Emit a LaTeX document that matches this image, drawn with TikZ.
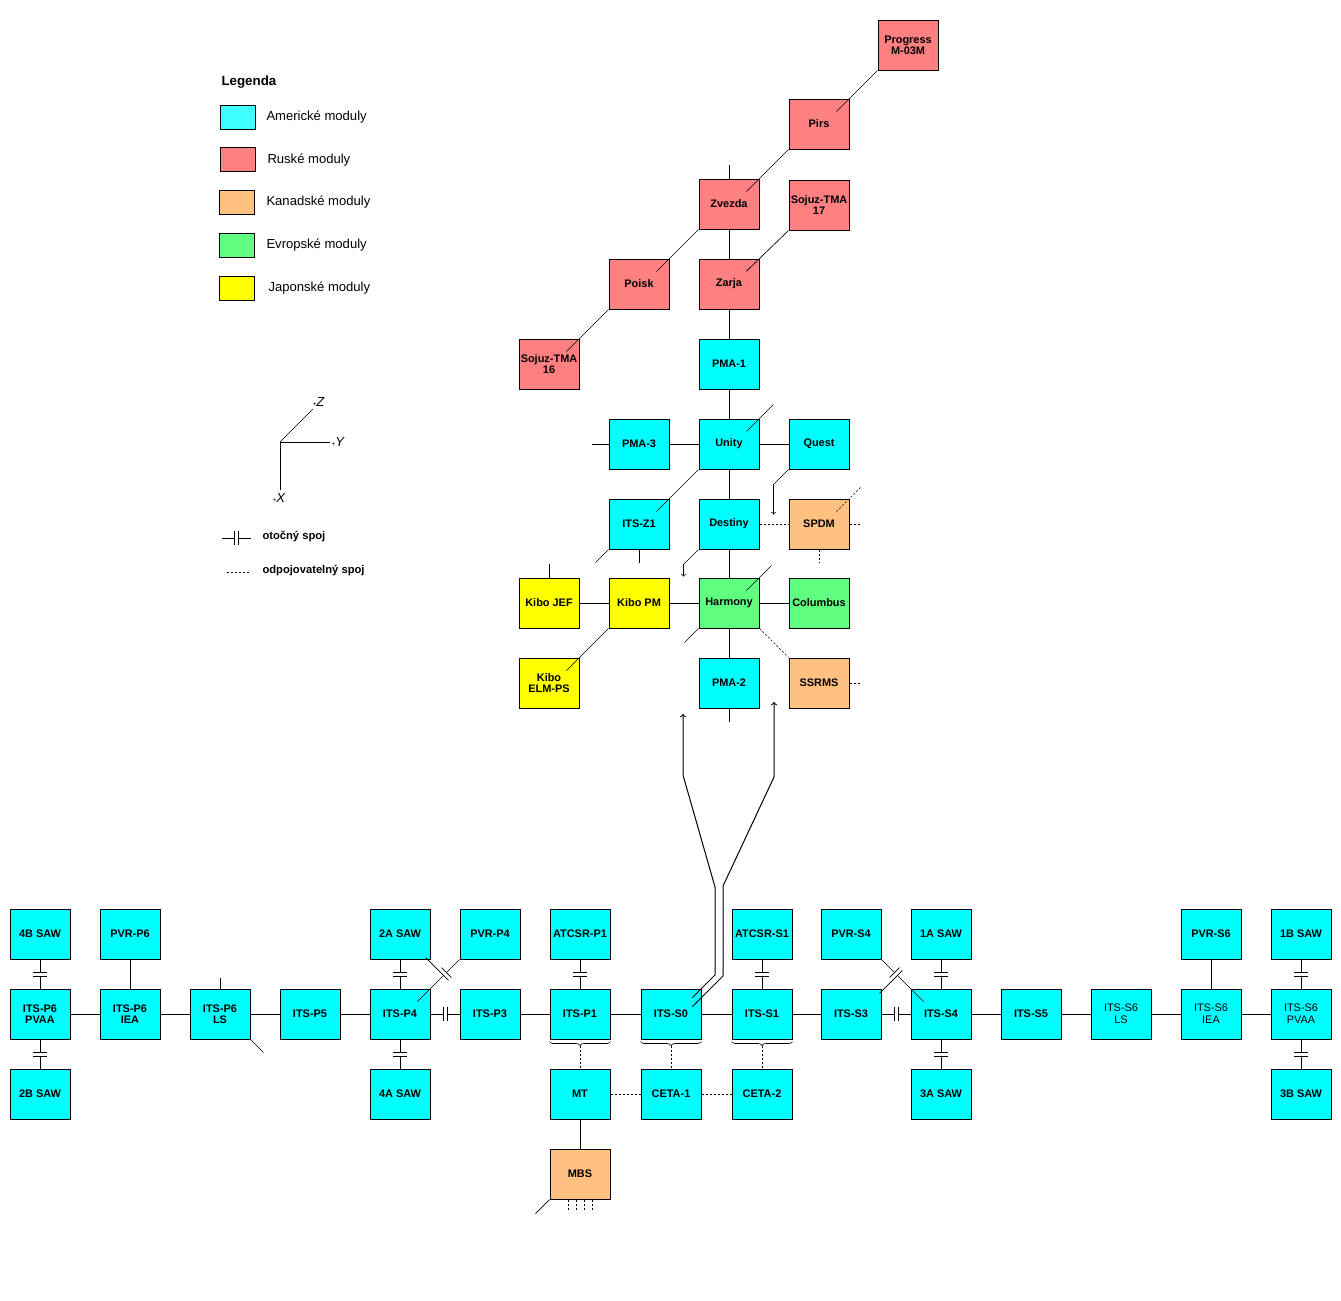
\documentclass[tikz,border=0pt]{standalone}
\usepackage{fontspec}
\setmainfont{Liberation Sans}
\usetikzlibrary{decorations.markings,decorations.pathreplacing}

\definecolor{amer}{RGB}{0,255,255}
\definecolor{amerleg}{RGB}{64,255,255}
\definecolor{rusk}{RGB}{255,128,128}
\definecolor{kanad}{RGB}{255,192,128}
\definecolor{evrop}{RGB}{96,255,128}
\definecolor{japon}{RGB}{255,255,0}

\tikzset{
	modul/.style={draw, minimum width=45pt, minimum height=37.5pt, inner sep=0pt, align=center, font=\fontsize{8.2}{8.5}\selectfont\bfseries},
	am/.style={modul, fill=amer},
	ru/.style={modul, fill=rusk},
	ka/.style={modul, fill=kanad},
	ev/.style={modul, fill=evrop},
	ja/.style={modul, fill=japon},
	tenky/.style={font=\fontsize{8.2}{9}\selectfont},
	vzor/.style={draw, minimum width=26.25pt, minimum height=18pt, inner sep=0pt},
	popis/.style={anchor=west, inner sep=0pt, font=\fontsize{9.8}{10}\selectfont},
	diag/.style={line width=0.5pt, shorten >=-13.8pt},
	odpoj/.style={dash pattern=on 1.5pt off 1.5pt},
	otocny/.style={postaction={decorate}, decoration={markings, mark=at position #1 with {\fill[white] (-2,-7) rectangle (2,7); \draw (-2,-7) -- (-2,7) (2,-7) -- (2,7);}}},
	otocny/.default=0.5
}

\begin{document}
\begin{tikzpicture}[x=0.75pt, y=-0.75pt, line width=0.75pt]
	\useasboundingbox (0,0) rectangle (1341,1300);

	% legenda
	\node[popis, font=\fontsize{10}{10}\selectfont\bfseries] (leg) at (221,82) {Legenda};
	\node[vzor, fill=amerleg] (vA) at (237.5,117) {};
	\node[vzor, fill=rusk] (vR) at (237.5,159) {};
	\node[vzor, fill=kanad] (vK) at (236.5,202) {};
	\node[vzor, fill=evrop] (vE) at (236.5,245) {};
	\node[vzor, fill=japon] (vJ) at (236.5,288) {};
	\node[popis] (tA) at (266,117) {Americké moduly};
	\node[popis] (tR) at (267,160) {Ruské moduly};
	\node[popis] (tK) at (266,202) {Kanadské moduly};
	\node[popis] (tE) at (266,245) {Evropské moduly};
	\node[popis] (tJ) at (268,288) {Japonské moduly};

	% osy
	\coordinate (O) at (280,442);
	\coordinate (kZ) at (313,409);
	\coordinate (kY) at (330,442);
	\coordinate (kX) at (280,490);
	\draw[line width=0.5pt] (O) -- (kZ);
	\draw (O) -- (kY);
	\draw (O) -- (kX);
	\node[popis] (oZ) at (312,402) {{\tiny+}\textit{Z}};
	\node[popis] (oY) at (331,442) {{\tiny+}\textit{Y}};
	\node[popis] (oX) at (272,498) {{\tiny+}\textit{X}};

	\coordinate (r1) at (222,538);
	\coordinate (r2) at (251,538);
	\coordinate (d1) at (227,572);
	\coordinate (d2) at (249,572);
	\draw[otocny] (r1) -- (r2);
	\draw[odpoj, line width=0.5pt] (d1) -- (d2);
	\node[popis, font=\fontsize{8.4}{9}\selectfont\bfseries] (tO) at (262,536) {otočný spoj};
	\node[popis, font=\fontsize{8.4}{9}\selectfont\bfseries] (tD) at (262,571) {odpojovatelný spoj};

	% ruske moduly
	\node[ru] (Progress) at (908,45) {Progress\\M-03M};
	\node[ru] (Pirs) at (819,124) {Pirs};
	\node[ru] (Zvezda) at (729,204) {Zvezda};
	\node[ru] (SojuzB) at (819,205) {Sojuz-TMA\\17};
	\node[ru] (Poisk) at (639,284) {Poisk};
	\node[ru] (Zarja) at (729,284) {Zarja};
	\node[ru] (SojuzA) at (549,364) {Sojuz-TMA\\16};

	% horni cast
	\node[am] (PMA1) at (729,364) {PMA-1};
	\node[am] (PMA3) at (639,444) {PMA-3};
	\node[am] (Unity) at (729,444) {Unity};
	\node[am] (Quest) at (819,444) {Quest};
	\node[am] (ITSZ1) at (639,524) {ITS-Z1};
	\node[am] (Destiny) at (729,524) {Destiny};
	\node[ka] (SPDM) at (819,524) {SPDM};
	\node[ja] (KiboJEF) at (549,603) {Kibo JEF};
	\node[ja] (KiboPM) at (639,603) {Kibo PM};
	\node[ev] (Harmony) at (729,603) {Harmony};
	\node[ev] (Columbus) at (819,603) {Columbus};
	\node[ja] (KiboELM) at (549,683) {Kibo\\ELM-PS};
	\node[am] (PMA2) at (729,683) {PMA-2};
	\node[ka] (SSRMS) at (819,683) {SSRMS};

	% prihradovy nosnik
	\node[am] (SAW4B) at (40,934) {4B SAW};
	\node[am] (PVRP6) at (130,934) {PVR-P6};
	\node[am] (SAW2A) at (400,934) {2A SAW};
	\node[am] (PVRP4) at (490,934) {PVR-P4};
	\node[am] (ATCSRP1) at (580,934) {ATCSR-P1};
	\node[am] (ATCSRS1) at (762,934) {ATCSR-S1};
	\node[am] (PVRS4) at (851,934) {PVR-S4};
	\node[am] (SAW1A) at (941,934) {1A SAW};
	\node[am] (PVRS6) at (1211,934) {PVR-S6};
	\node[am] (SAW1B) at (1301,934) {1B SAW};

	\node[am] (P6PVAA) at (40,1014) {ITS-P6\\PVAA};
	\node[am] (P6IEA) at (130,1014) {ITS-P6\\IEA};
	\node[am] (P6LS) at (220,1014) {ITS-P6\\LS};
	\node[am] (ITSP5) at (310,1014) {ITS-P5};
	\node[am] (ITSP4) at (400,1014) {ITS-P4};
	\node[am] (ITSP3) at (490,1014) {ITS-P3};
	\node[am] (ITSP1) at (580,1014) {ITS-P1};
	\node[am] (ITSS0) at (671,1014) {ITS-S0};
	\node[am] (ITSS1) at (762,1014) {ITS-S1};
	\node[am] (ITSS3) at (851,1014) {ITS-S3};
	\node[am] (ITSS4) at (941,1014) {ITS-S4};
	\node[am] (ITSS5) at (1031,1014) {ITS-S5};
	\node[am, tenky] (S6LS) at (1121,1014) {ITS-S6\\LS};
	\node[am, tenky] (S6IEA) at (1211,1014) {ITS-S6\\IEA};
	\node[am, tenky] (S6PVAA) at (1301,1014) {ITS-S6\\PVAA};

	\node[am] (SAW2B) at (40,1094) {2B SAW};
	\node[am] (SAW4A) at (400,1094) {4A SAW};
	\node[am] (MT) at (580,1094) {MT};
	\node[am] (CETA1) at (671,1094) {CETA-1};
	\node[am] (CETA2) at (762,1094) {CETA-2};
	\node[am] (SAW3A) at (941,1094) {3A SAW};
	\node[am] (SAW3B) at (1301,1094) {3B SAW};
	\node[ka] (MBS) at (580,1174) {MBS};

	\tikzstyle{sipka}=[->]

	% spoje ruskeho segmentu
	\draw[diag] (Progress.south west) -- (Pirs.north east);
	\draw[diag] (Pirs.south west) -- (Zvezda.north east);
	\draw[diag] (Zvezda.south west) -- (Poisk.north east);
	\draw[diag] (SojuzB.south west) -- (Zarja.north east);
	\draw[diag] (Poisk.south west) -- (SojuzA.north east);
	\draw (Zvezda.north) -- ++(0,-14);
	\draw (Zvezda) -- (Zarja);
	\draw (Zarja) -- (PMA1);
	\draw (PMA1) -- (Unity);

	% spoje horni casti
	\draw (PMA3.west) -- ++(-17,0);
	\draw (PMA3) -- (Unity);
	\draw (Unity) -- (Quest);
	\draw (Unity) -- (Destiny);
	\draw[line width=0.5pt] ([shift={(-13,13)}]Unity.north east) -- ++(27,-27);
	\draw[diag] (Unity.south west) -- (ITSZ1.north east);
	\draw[sipka, line width=0.5pt] (Quest.south west) -- ++(-15,15) -- ++(0,30);
	\draw[sipka, line width=0.5pt] (Destiny.south west) -- ++(-15,15) -- ++(0,12);
	\draw[odpoj] (Destiny) -- (SPDM);
	\draw[odpoj] (SPDM.east) -- ++(12,0);
	\draw[odpoj] (SPDM.south) -- ++(0,13);
	\draw[odpoj, line width=0.5pt] ([shift={(-13,13)}]SPDM.north east) -- ++(25,-25);
	\draw[line width=0.5pt] (ITSZ1.south west) -- ++(-13,13);
	\draw (ITSZ1.south) -- ++(0,13);
	\draw (Destiny) -- (Harmony);
	\draw (KiboJEF.north) -- ++(0,-14);
	\draw (KiboJEF) -- (KiboPM);
	\draw (KiboPM) -- (Harmony);
	\draw (Harmony) -- (Columbus);
	\draw[line width=0.5pt] ([shift={(-13,13)}]Harmony.north east) -- ++(25,-25);
	\draw[line width=0.5pt] (Harmony.south west) -- ++(-14,14);
	\draw[diag] (KiboPM.south west) -- (KiboELM.north east);
	\draw[odpoj, line width=0.5pt] (Harmony.south east) -- (SSRMS.north west);
	\draw (Harmony) -- (PMA2);
	\draw (PMA2.south) -- ++(0,13);
	\draw[odpoj] (SSRMS.east) -- ++(12,0);

	% spoj S0 k modulum
	\coordinate (sipkaL) at (683,714);
	\coordinate (sipkaP) at (774,702);
	\draw[sipka] ([shift={(-9,9)}]ITSS0.north east) -- (715,975) -- (715,887) -- (683,775) -- (sipkaL);
	\draw[sipka] ([shift={(-9,18)}]ITSS0.north east) -- (723,976) -- (723,886) -- (774,777) -- (sipkaP);

	% nosnik
	\draw[otocny] (SAW4B) -- (P6PVAA);
	\draw[otocny] (P6PVAA) -- (SAW2B);
	\draw (PVRP6) -- (P6IEA);
	\draw (P6PVAA) -- (P6IEA);
	\draw (P6IEA) -- (P6LS);
	\draw (P6LS) -- (ITSP5);
	\draw (P6LS.north) -- ++(0,-11);
	\draw[line width=0.5pt] (P6LS.south east) -- ++(13,13);
	\draw (ITSP5) -- (ITSP4);
	\draw[otocny] (SAW2A) -- (ITSP4);
	\draw[otocny] (ITSP4) -- (SAW4A);
	\draw[otocny] (ITSP4) -- (ITSP3);
	\draw[diag, otocny] (PVRP4.south west) -- (ITSP4.north east);
	\draw (ITSP3) -- (ITSP1);
	\draw[otocny] (ATCSRP1) -- (ITSP1);
	\draw (ITSP1) -- (ITSS0);
	\draw (ITSS0) -- (ITSS1);
	\draw[otocny] (ATCSRS1) -- (ITSS1);
	\draw (ITSS1) -- (ITSS3);
	\draw[otocny] (ITSS3) -- (ITSS4);
	\draw[diag, otocny] (PVRS4.south east) -- (ITSS4.north west);
	\draw[otocny] (SAW1A) -- (ITSS4);
	\draw[otocny] (ITSS4) -- (SAW3A);
	\draw (ITSS4) -- (ITSS5);
	\draw (ITSS5) -- (S6LS);
	\draw (S6LS) -- (S6IEA);
	\draw (PVRS6) -- (S6IEA);
	\draw (S6IEA) -- (S6PVAA);
	\draw[otocny] (SAW1B) -- (S6PVAA);
	\draw[otocny] (S6PVAA) -- (SAW3B);

	% mobilni system
	\draw[line width=0.5pt, decorate, decoration={brace, mirror, amplitude=3pt}] ([yshift=-1.5pt]ITSP1.south west) -- ([yshift=-1.5pt]ITSP1.south east);
	\draw[line width=0.5pt, decorate, decoration={brace, mirror, amplitude=3pt}] ([yshift=-1.5pt]ITSS0.south west) -- ([yshift=-1.5pt]ITSS0.south east);
	\draw[line width=0.5pt, decorate, decoration={brace, mirror, amplitude=3pt}] ([yshift=-1.5pt]ITSS1.south west) -- ([yshift=-1.5pt]ITSS1.south east);
	\draw[odpoj] ([yshift=-4.5pt]ITSP1.south) -- (MT);
	\draw[odpoj] ([yshift=-4.5pt]ITSS0.south) -- (CETA1);
	\draw[odpoj] ([yshift=-4.5pt]ITSS1.south) -- (CETA2);
	\draw[odpoj] (MT) -- (CETA1);
	\draw[odpoj] (CETA1) -- (CETA2);
	\draw (MT) -- (MBS);
	\draw[line width=0.5pt] (MBS.south west) -- ++(-14,14);
	\draw[odpoj] ([xshift=-9pt]MBS.south) -- ++(0,11);
	\draw[odpoj] ([xshift=-3pt]MBS.south) -- ++(0,11);
	\draw[odpoj] ([xshift=3pt]MBS.south) -- ++(0,11);
	\draw[odpoj] ([xshift=9pt]MBS.south) -- ++(0,11);
\end{tikzpicture}
\end{document}
